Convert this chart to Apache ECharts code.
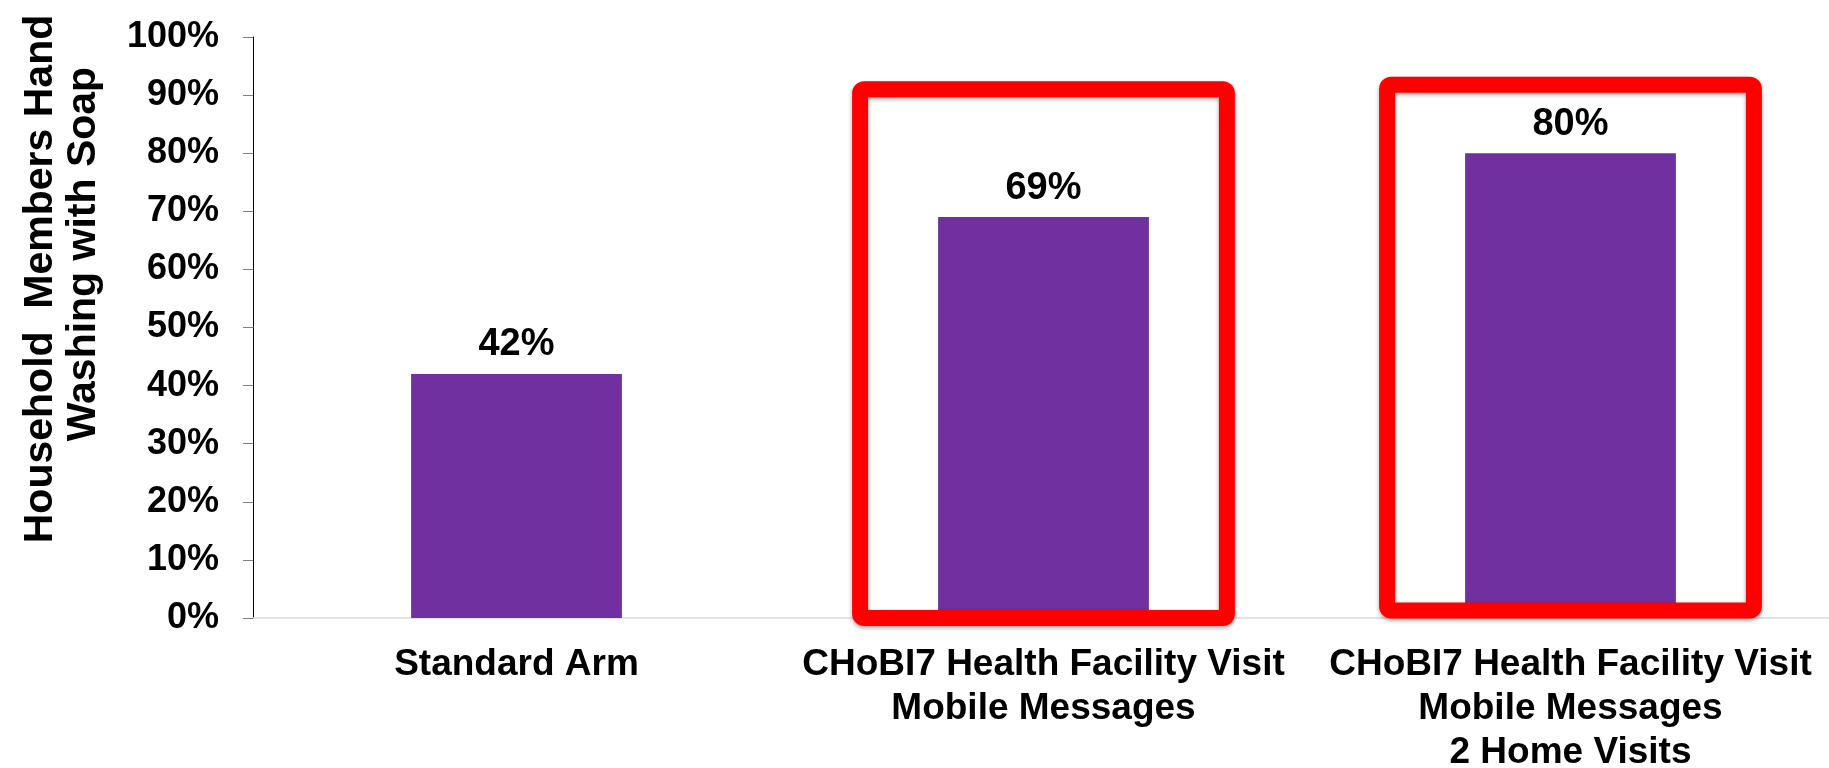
<!DOCTYPE html>
<html>
<head>
<meta charset="utf-8">
<title>Hand Washing with Soap</title>
<script src="https://cdn.jsdelivr.net/npm/echarts@6/dist/echarts.min.js"></script>
<style>
  html, body { margin: 0; padding: 0; background: #fff; }
  #chart { width: 1829px; height: 768px; }
</style>
</head>
<body>
<div id="chart"></div>
<script>
// categories + values (percent)
const categories = [
  'Standard Arm',
  'CHoBI7 Health Facility Visit\nMobile Messages',
  'CHoBI7 Health Facility Visit\nMobile Messages\n2 Home Visits'
]
const washingPct = [42, 69, 80]
const highlighted = [1, 2]
const yNameLines = ['Household  Members Hand', 'Washing with Soap']

const FONT = '"Liberation Sans", Arial, sans-serif'
const chart = echarts.init(document.getElementById('chart'))

const option = {
  animation: false,
  grid: { left: 253, right: -5, top: 37, bottom: 150, containLabel: false, outerBoundsMode: 'none' },
  xAxis: {
    type: 'category',
    data: categories,
    axisLine: { lineStyle: { color: '#d9d9d9', width: 1.5 } },
    axisTick: { show: false },
    axisLabel: {
      interval: 0,
      hideOverlap: false,
      margin: 25,
      color: '#000',
      fontFamily: FONT,
      fontWeight: 'bold',
      fontSize: 37,
      lineHeight: 44
    }
  },
  yAxis: {
    type: 'value',
    min: 0,
    max: 100,
    interval: 10,
    splitLine: { show: false },
    axisLine: { show: true, lineStyle: { color: '#000', width: 1 } },
    axisTick: { show: true, length: 10, lineStyle: { color: '#7f7f7f' } },
    axisLabel: {
      margin: 34,
      color: '#000',
      fontFamily: FONT,
      fontWeight: 'bold',
      fontSize: 36,
      formatter: v => v + '%'
    }
  },
  series: [{
    type: 'bar',
    data: washingPct,
    barWidth: '40%',
    itemStyle: { color: '#7030a0' },
    label: {
      show: true,
      position: 'top',
      distance: 10,
      color: '#000',
      fontFamily: FONT,
      fontWeight: 'bold',
      fontSize: 38,
      formatter: p => p.value + '%'
    },
    z: 2
  }]
}
chart.setOption(option)

// red highlight boxes around selected bars (value-axis units)
const boxTop = [91.0, 91.8]
const boxBottom = [0, 1.3]
const halfBand = 0.348
const x0 = chart.convertToPixel({ xAxisIndex: 0 }, categories[0])
const x1 = chart.convertToPixel({ xAxisIndex: 0 }, categories[1])
const band = x1 - x0

const graphics = highlighted.map((i, k) => {
  const cx = chart.convertToPixel({ xAxisIndex: 0 }, categories[i])
  const top = chart.convertToPixel({ yAxisIndex: 0 }, boxTop[k])
  const bottom = chart.convertToPixel({ yAxisIndex: 0 }, boxBottom[k])
  return {
    type: 'rect',
    z: 10,
    shape: { x: cx - halfBand * band, y: top, width: 2 * halfBand * band, height: bottom - top, r: 4 },
    style: {
      fill: 'none',
      stroke: '#ff0000',
      lineWidth: 16,
      shadowBlur: 4,
      shadowOffsetY: 2,
      shadowColor: 'rgba(0,0,0,0.35)'
    }
  }
})

// y axis title, two rotated lines
const nameX = [41, 84]
const nameY = [279, 254]
yNameLines.forEach((t, i) => {
  graphics.push({
    type: 'text',
    x: nameX[i],
    y: nameY[i],
    rotation: Math.PI / 2,
    style: {
      text: t,
      fontFamily: FONT,
      fontWeight: 'bold',
      fontSize: 41,
      fill: '#000',
      align: 'center',
      verticalAlign: 'middle'
    }
  })
})

chart.setOption({ graphic: graphics })
</script>
</body>
</html>
